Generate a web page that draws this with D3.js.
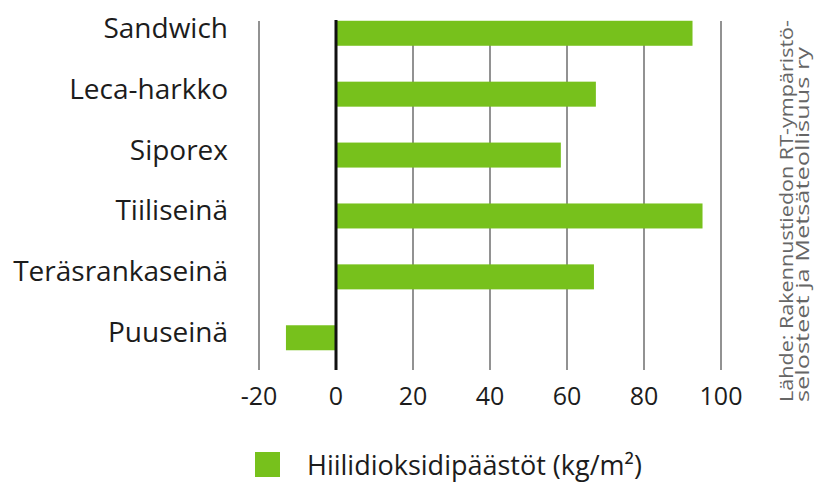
<!DOCTYPE html>
<html>
<head>
<meta charset="utf-8">
<script src="https://cdn.jsdelivr.net/npm/d3@7"></script>
<style>
  body { margin: 0; background: #fff; }
  svg text { font-family: "Open Sans", sans-serif; fill: #1c1c1c; }
</style>
</head>
<body>
<div id="chart"></div>
<script>
// data
var categories = ["Sandwich", "Leca-harkko", "Siporex", "Tiiliseinä", "Teräsrankaseinä", "Puuseinä"];
var values = [92.6, 67.5, 58.4, 95.2, 67, -13];
var tickValues = [-20, 0, 20, 40, 60, 80, 100];
var legendLabel = "Hiilidioksidipäästöt (kg/m²)";
var sourceLines = ["Lähde: Rakennustiedon RT-ympäristö-", "selosteet ja Metsäteollisuus ry"];

var svgWidth = 819, svgHeight = 485;
var green = "#77c11c";

var svg = d3.select("#chart")
    .append("svg")
    .attr("width", svgWidth)
    .attr("height", svgHeight);

var x = d3.scaleLinear()
    .domain([-20, 100])
    .range([259, 721]);

var y = d3.scaleBand()
    .domain(categories)
    .range([2.5, 368.5])
    .paddingInner(0.59)
    .paddingOuter(0.3);

// grid lines
svg.append("g")
    .selectAll("line")
    .data(tickValues.filter(d => d !== 0))
    .enter()
    .append("line")
    .attr("x1", d => x(d))
    .attr("x2", d => x(d))
    .attr("y1", 21)
    .attr("y2", 370)
    .attr("stroke", "#777")
    .attr("stroke-width", 1.6);

// bars
svg.append("g")
    .selectAll("rect")
    .data(values)
    .enter()
    .append("rect")
    .attr("x", d => x(Math.min(0, d)))
    .attr("width", d => Math.abs(x(d) - x(0)))
    .attr("y", (d, i) => y(categories[i]))
    .attr("height", 25)
    .attr("fill", green);

// zero line
svg.append("line")
    .attr("x1", x(0))
    .attr("x2", x(0))
    .attr("y1", 20)
    .attr("y2", 370)
    .attr("stroke", "#111")
    .attr("stroke-width", 3);

// category labels
svg.append("g")
    .selectAll("text")
    .data(categories)
    .enter()
    .append("text")
    .attr("x", 228)
    .attr("y", d => y(d) + 17)
    .attr("text-anchor", "end")
    .style("font-size", "28px")
    .text(d => d);

// x tick labels
svg.append("g")
    .selectAll("text")
    .data(tickValues)
    .enter()
    .append("text")
    .attr("x", d => x(d))
    .attr("y", 405)
    .attr("text-anchor", "middle")
    .style("font-size", "25px")
    .text(d => d);

// legend
svg.append("rect")
    .attr("x", 255)
    .attr("y", 452)
    .attr("width", 25)
    .attr("height", 25)
    .attr("fill", green);

svg.append("text")
    .attr("x", 307)
    .attr("y", 475)
    .style("font-size", "27px")
    .text(legendLabel);

// source note, rotated
var source = svg.append("g")
    .attr("transform", "translate(0, 402) rotate(-90)");

source.selectAll("text")
    .data(sourceLines)
    .enter()
    .append("text")
    .attr("x", 0)
    .attr("y", (d, i) => 793 + i * 16)
    .attr("textLength", (d, i) => i === 0 ? 382 : 355)
    .attr("lengthAdjust", "spacingAndGlyphs")
    .style("font-family", "'Liberation Sans Narrow', 'Open Sans', sans-serif")
    .style("font-size", "19px")
    .style("fill", "#666")
    .text(d => d);
</script>
</body>
</html>
